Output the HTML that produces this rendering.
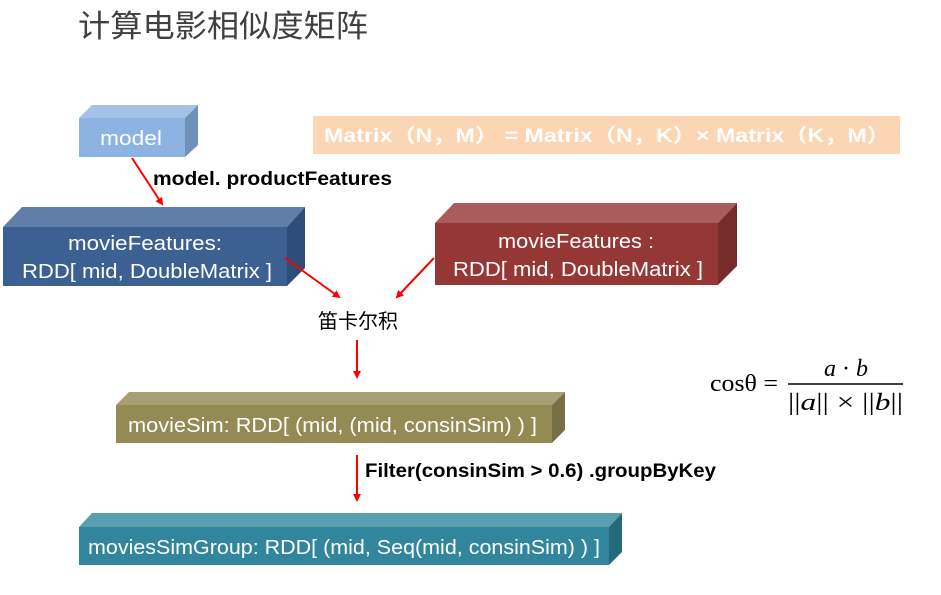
<!DOCTYPE html>
<html><head><meta charset="utf-8"><style>
body{margin:0;background:#fff;width:941px;height:595px;overflow:hidden}
svg{display:block}
</style></head><body>
<svg width="941" height="595" viewBox="0 0 941 595" font-family="'Liberation Sans','Noto Sans CJK SC',sans-serif">
<defs><marker id="ah" markerWidth="8" markerHeight="8" refX="6" refY="4" orient="auto" markerUnits="userSpaceOnUse"><path d="M0,0 L8,4 L0,8 z" fill="#ff0000"/></marker></defs>
<text x="78" y="37" font-size="31" fill="#404040" textLength="290" lengthAdjust="spacingAndGlyphs" style="font-family:'Noto Sans CJK SC',sans-serif">计算电影相似度矩阵</text>

<polygon points="79,118 92,105 198,105 185,118" fill="#a4c2e8"/>
<polygon points="185,118 198,105 198,145 185,157" fill="#6f90b8"/>
<rect x="79" y="118" width="106" height="39" fill="#8db3e2"/>
<text x="100" y="145" font-size="20" fill="#fff" textLength="62" lengthAdjust="spacingAndGlyphs">model</text>

<line x1="132" y1="158" x2="162" y2="204" stroke="#ff0000" stroke-width="2" marker-end="url(#ah)"/>
<text x="153" y="185" font-size="19" font-weight="bold" fill="#000" textLength="239" lengthAdjust="spacingAndGlyphs">model. productFeatures</text>

<polygon points="3,227 22,207 305,207 287,227" fill="#5f7fa8"/>
<polygon points="287,227 305,207 305,268 287,286" fill="#2e4d78"/>
<rect x="3" y="227" width="284" height="59" fill="#3b6091"/>
<text x="68" y="250" font-size="20" fill="#fff" textLength="154" lengthAdjust="spacingAndGlyphs">movieFeatures:</text>
<text x="22" y="278" font-size="20" fill="#fff" textLength="250" lengthAdjust="spacingAndGlyphs">RDD[ mid, DoubleMatrix ]</text>

<polygon points="435,223 454,203 737,203 718,223" fill="#a85c5b"/>
<polygon points="718,223 737,203 737,266 718,285" fill="#772c2b"/>
<rect x="435" y="223" width="283" height="62" fill="#953735"/>
<text x="498" y="248" font-size="20" fill="#fff" textLength="156" lengthAdjust="spacingAndGlyphs">movieFeatures :</text>
<text x="453" y="276" font-size="20" fill="#fff" textLength="250" lengthAdjust="spacingAndGlyphs">RDD[ mid, DoubleMatrix ]</text>

<line x1="285" y1="258" x2="339" y2="297" stroke="#ff0000" stroke-width="2" marker-end="url(#ah)"/>
<line x1="434" y1="258" x2="397" y2="297" stroke="#ff0000" stroke-width="2" marker-end="url(#ah)"/>
<text x="318" y="328" font-size="20" fill="#000" textLength="80" lengthAdjust="spacingAndGlyphs">笛卡尔积</text>
<line x1="357" y1="340" x2="357" y2="377" stroke="#ff0000" stroke-width="2" marker-end="url(#ah)"/>

<rect x="313" y="116" width="587" height="38" fill="#fcd5b5"/>
<text x="324" y="142" font-size="19" font-weight="bold" fill="#fff" textLength="566" lengthAdjust="spacingAndGlyphs">Matrix（N，M） = Matrix（N，K）× Matrix（K，M）</text>

<text x="710" y="391" font-size="24" fill="#000" textLength="68" lengthAdjust="spacingAndGlyphs" style="font-family:'Liberation Serif',serif">cosθ =</text>
<line x1="788" y1="384" x2="903" y2="384" stroke="#000" stroke-width="1.5"/>
<text x="846" y="376" font-size="24" fill="#000" text-anchor="middle" style="font-family:'Liberation Serif',serif"><tspan font-style="italic">a</tspan> · <tspan font-style="italic">b</tspan></text>
<text x="788" y="410" font-size="24" fill="#000" textLength="115" lengthAdjust="spacingAndGlyphs" style="font-family:'Liberation Serif',serif">||<tspan font-style="italic">a</tspan>|| × ||<tspan font-style="italic">b</tspan>||</text>

<polygon points="116,405 129,392 565,392 552,405" fill="#a79f73"/>
<polygon points="552,405 565,392 565,430 552,443" fill="#776f45"/>
<rect x="116" y="405" width="436" height="38" fill="#948a54"/>
<text x="128" y="432" font-size="20" fill="#fff" textLength="409" lengthAdjust="spacingAndGlyphs">movieSim: RDD[ (mid, (mid, consinSim) ) ]</text>

<line x1="357" y1="455" x2="357" y2="500" stroke="#ff0000" stroke-width="2" marker-end="url(#ah)"/>
<text x="365" y="477" font-size="19" font-weight="bold" fill="#000" textLength="351" lengthAdjust="spacingAndGlyphs">Filter(consinSim &gt; 0.6) .groupByKey</text>

<polygon points="79,527 92,513 622,513 609,527" fill="#5a9fb0"/>
<polygon points="609,527 622,513 622,552 609,565" fill="#236a7c"/>
<rect x="79" y="527" width="530" height="38" fill="#31859c"/>
<text x="88" y="554" font-size="20" fill="#fff" textLength="512" lengthAdjust="spacingAndGlyphs">moviesSimGroup: RDD[ (mid, Seq(mid, consinSim) ) ]</text>
</svg>
</body></html>
